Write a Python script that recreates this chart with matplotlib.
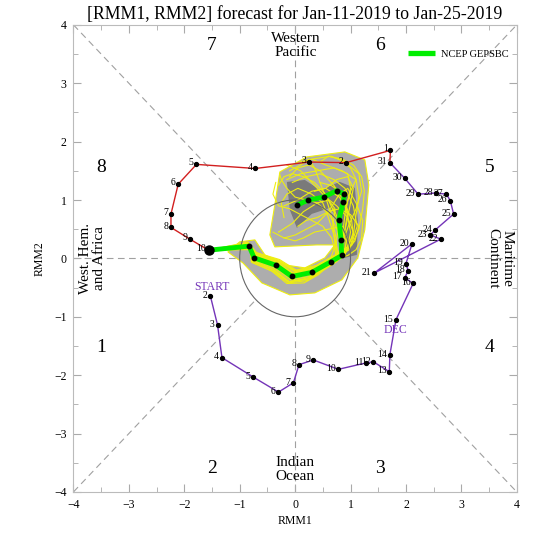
import matplotlib
matplotlib.use("Agg")
import matplotlib.pyplot as plt
import numpy as np
from matplotlib.patches import Circle, Polygon

plt.rcParams['font.family'] = ['Liberation Serif', 'DejaVu Serif']

# ---------------- data ----------------
# December observed (days 2..31)
dec_days = list(range(2, 32))
dec_rmm1 = [-1.53, -1.40, -1.32, -0.76, -0.30, -0.03, 0.07, 0.33, 0.78, 1.28, 1.41, 1.70, 1.71, 1.82,
            2.13, 1.98, 2.04, 2.00, 2.11, 1.43, 2.63, 2.44, 2.52, 2.86, 2.80, 2.73, 2.54, 2.22, 1.98, 1.71]
dec_rmm2 = [-0.64, -1.14, -1.70, -2.03, -2.29, -2.13, -1.82, -1.74, -1.90, -1.79, -1.77, -1.94, -1.65, -1.05,
            -0.43, -0.33, -0.21, -0.09, 0.25, -0.25, 0.33, 0.40, 0.48, 0.76, 0.99, 1.10, 1.12, 1.10, 1.37, 1.64]
# January observed (days 1..10)
jan_days = list(range(1, 11))
jan_rmm1 = [1.72, 0.92, 0.25, -0.72, -1.78, -2.11, -2.24, -2.24, -1.90, -1.56]
jan_rmm2 = [1.85, 1.64, 1.65, 1.54, 1.61, 1.27, 0.76, 0.53, 0.33, 0.14]

# Ensemble mean forecast (Jan 11..25)
fc_rmm1 = [-0.83, -0.74, -0.34, -0.06, 0.30, 0.64, 0.84, 0.83, 0.79, 0.87, 0.89, 0.75, 0.52, 0.24, 0.03]
fc_rmm2 = [0.21, 0.01, -0.12, -0.31, -0.24, -0.06, 0.05, 0.32, 0.66, 0.97, 1.10, 1.16, 1.05, 1.00, 0.91]

# Ensemble members (Jan 11..25)
ens_rmm1 = [
    [-0.85, -0.70, -0.28, 0.02, 0.38, 0.72, 0.95, 1.00, 0.92, 1.00, 0.95, 0.70, 0.40, 0.10, -0.15],
    [-0.80, -0.78, -0.40, -0.12, 0.22, 0.55, 0.76, 0.72, 0.68, 0.72, 0.60, 0.40, 0.15, -0.05, -0.30],
    [-0.88, -0.68, -0.30, 0.00, 0.38, 0.74, 0.98, 1.05, 1.10, 1.15, 1.10, 0.85, 0.55, 0.30, 0.10],
    [-0.80, -0.77, -0.38, -0.10, 0.25, 0.56, 0.78, 0.70, 0.60, 0.50, 0.30, 0.05, -0.15, -0.25, -0.20],
    [-0.84, -0.70, -0.30, 0.00, 0.36, 0.72, 1.02, 1.15, 1.22, 1.25, 1.20, 1.05, 0.85, 0.60, 0.45],
    [-0.81, -0.79, -0.42, -0.15, 0.16, 0.42, 0.58, 0.68, 0.75, 0.80, 0.85, 0.90, 0.80, 0.65, 0.45],
    [-0.83, -0.73, -0.33, -0.03, 0.33, 0.68, 0.90, 0.92, 0.80, 0.70, 0.55, 0.40, 0.20, 0.00, -0.20],
    [-0.86, -0.69, -0.29, 0.01, 0.37, 0.73, 0.88, 0.88, 0.95, 1.00, 1.05, 0.95, 0.75, 0.55, 0.35],
    [-0.82, -0.76, -0.39, -0.11, 0.24, 0.60, 0.86, 1.02, 1.12, 1.05, 0.90, 0.70, 0.45, 0.20, -0.05],
    [-0.84, -0.73, -0.33, -0.05, 0.30, 0.62, 0.76, 0.74, 0.65, 0.55, 0.45, 0.35, 0.25, 0.10, -0.10],
    [-0.83, -0.72, -0.33, -0.05, 0.32, 0.68, 0.95, 1.10, 1.20, 1.22, 1.10, 0.95, 0.80, 0.70, 0.60],
    [-0.85, -0.72, -0.31, -0.04, 0.32, 0.66, 0.86, 0.80, 0.70, 0.55, 0.35, 0.15, -0.05, -0.20, -0.30],
    [-0.82, -0.76, -0.37, -0.08, 0.26, 0.58, 0.82, 0.96, 1.05, 0.95, 0.75, 0.55, 0.35, 0.10, -0.15],
    [-0.84, -0.71, -0.29, 0.01, 0.36, 0.70, 0.92, 1.08, 1.15, 1.00, 0.80, 0.60, 0.40, 0.20, 0.05],
    [-0.83, -0.75, -0.36, -0.07, 0.28, 0.61, 0.80, 0.85, 0.88, 0.92, 1.00, 1.10, 1.00, 0.80, 0.60],
    [-0.86, -0.70, -0.31, -0.02, 0.34, 0.67, 0.84, 0.78, 0.62, 0.40, 0.20, 0.00, -0.15, -0.25, -0.28],
    [-0.81, -0.77, -0.39, -0.12, 0.21, 0.52, 0.72, 0.82, 0.90, 0.95, 0.80, 0.55, 0.30, 0.05, -0.20],
    [-0.85, -0.72, -0.32, -0.03, 0.33, 0.70, 0.93, 1.05, 1.02, 0.90, 0.70, 0.45, 0.25, 0.05, -0.10],
    [-0.84, -0.74, -0.35, -0.06, 0.29, 0.60, 0.74, 0.66, 0.50, 0.30, 0.10, -0.10, -0.30, -0.40, -0.35],
    [-0.82, -0.75, -0.35, -0.06, 0.30, 0.65, 0.88, 0.94, 0.85, 0.60, 0.35, 0.15, 0.00, -0.20, -0.40],
    [-0.83, -0.73, -0.34, -0.05, 0.31, 0.64, 0.83, 0.86, 0.96, 1.10, 1.20, 1.15, 0.90, 0.65, 0.30],
]
ens_rmm2 = [
    [0.28, 0.10, -0.02, -0.20, -0.12, 0.06, 0.20, 0.45, 0.85, 1.20, 1.45, 1.55, 1.50, 1.45, 1.35],
    [0.15, -0.07, -0.22, -0.42, -0.38, -0.18, -0.05, 0.25, 0.55, 0.85, 1.00, 0.95, 0.80, 0.60, 0.45],
    [0.25, 0.08, -0.04, -0.22, -0.16, 0.02, 0.15, 0.40, 0.75, 1.05, 1.35, 1.50, 1.60, 1.70, 1.65],
    [0.17, -0.04, -0.19, -0.40, -0.33, -0.14, 0.08, 0.40, 0.70, 0.95, 1.10, 1.20, 1.10, 0.95, 0.70],
    [0.26, 0.06, -0.06, -0.23, -0.17, 0.02, 0.22, 0.50, 0.85, 1.15, 1.40, 1.60, 1.70, 1.75, 1.65],
    [0.16, -0.06, -0.22, -0.43, -0.42, -0.28, -0.14, 0.10, 0.35, 0.60, 0.80, 1.00, 1.15, 1.25, 1.30],
    [0.22, 0.03, -0.09, -0.26, -0.20, 0.00, 0.05, 0.30, 0.60, 0.85, 0.75, 0.60, 0.50, 0.40, 0.35],
    [0.27, 0.09, -0.03, -0.21, -0.14, 0.04, 0.14, 0.40, 0.70, 0.95, 1.20, 1.40, 1.35, 1.20, 1.15],
    [0.18, -0.04, -0.20, -0.40, -0.35, -0.14, 0.02, 0.25, 0.55, 0.90, 1.20, 1.35, 1.45, 1.40, 1.30],
    [0.22, 0.02, -0.12, -0.31, -0.25, -0.07, 0.05, 0.35, 0.75, 1.05, 1.30, 1.55, 1.70, 1.60, 1.50],
    [0.20, 0.02, -0.10, -0.29, -0.22, -0.02, 0.05, 0.15, 0.35, 0.65, 0.95, 1.20, 1.10, 0.95, 0.80],
    [0.23, 0.03, -0.10, -0.29, -0.22, -0.05, 0.08, 0.40, 0.80, 1.10, 1.30, 1.40, 1.45, 1.40, 1.25],
    [0.19, -0.02, -0.17, -0.37, -0.31, -0.12, 0.00, 0.20, 0.45, 0.70, 0.90, 1.05, 1.25, 1.50, 1.60],
    [0.25, 0.07, -0.05, -0.22, -0.16, 0.03, 0.12, 0.30, 0.55, 0.75, 0.85, 0.80, 0.70, 0.65, 0.55],
    [0.20, -0.01, -0.15, -0.34, -0.28, -0.10, 0.02, 0.30, 0.60, 0.90, 1.15, 1.35, 1.55, 1.70, 1.75],
    [0.24, 0.05, -0.08, -0.26, -0.19, 0.00, 0.12, 0.45, 0.75, 0.95, 1.00, 1.05, 1.20, 1.35, 1.45],
    [0.17, -0.05, -0.20, -0.40, -0.36, -0.18, -0.04, 0.18, 0.50, 0.80, 1.05, 1.20, 1.15, 1.00, 0.90],
    [0.26, 0.06, -0.07, -0.25, -0.18, 0.02, 0.18, 0.40, 0.65, 0.95, 1.25, 1.50, 1.60, 1.55, 1.40],
    [0.21, 0.00, -0.13, -0.33, -0.27, -0.10, 0.05, 0.35, 0.55, 0.65, 0.75, 0.85, 0.90, 1.10, 1.30],
    [0.20, 0.01, -0.12, -0.31, -0.24, -0.05, 0.08, 0.35, 0.55, 0.50, 0.45, 0.35, 0.30, 0.35, 0.45],
    [0.22, 0.02, -0.11, -0.30, -0.23, -0.04, 0.06, 0.28, 0.55, 0.85, 1.15, 1.45, 1.65, 1.75, 1.70],
]

# Spread envelopes (outer = light gray, inner = dark gray)
outer_rmm1 = [-0.275, 0.212, 0.897, 1.258, 1.330, 1.258, 1.132, 0.844, 0.356, -0.095, -0.600, -0.942,
              -1.213, -1.000, -0.726, -0.546, -0.185, 0.176, 0.537, 0.717, 0.392, -0.366, -0.456, -0.366]
outer_rmm2 = [1.481, 1.738, 1.824, 1.687, 1.259, 0.490, 0.009, -0.368, -0.591, -0.625, -0.420, -0.077,
              0.111, 0.283, 0.317, 0.060, -0.111, -0.163, 0.009, 0.231, 0.231, 0.197, 0.402, 0.916]
inner_rmm1 = [-0.149, 0.176, 0.446, 0.807, 1.078, 1.132, 1.114, 0.897, 0.844, 0.627, 0.302, 0.032, -0.095]
inner_rmm2 = [1.310, 1.344, 1.173, 1.310, 1.207, 0.659, 0.060, 0.009, 0.574, 0.865, 0.762, 0.522, 0.830]

phase_numbers = ['1', '2', '3', '4', '5', '6', '7', '8']
phase_pos = [(-3.50, -1.52), (-1.50, -3.60), (1.53, -3.60), (3.51, -1.52),
             (3.51, 1.55), (1.53, 3.64), (-1.50, 3.64), (-3.50, 1.55)]

RED = '#d21f1f'
PURPLE = '#7434b8'
GREEN = '#00ee00'
YELLOW = '#eeee10'

# ---------------- figure ----------------
fig = plt.figure(figsize=(5.4, 5.4), dpi=100)
ax = fig.add_axes([0.136, 0.089, 0.821, 0.865])
ax.set_xlim(-4, 4)
ax.set_ylim(-4, 4)

# dashed reference lines
dash = dict(color='#a0a0a0', lw=0.8, ls=(0, (6, 4)), zorder=1)
r = np.sqrt(0.5)
ax.plot([-4, -1], [0, 0], **dash)
ax.plot([1, 4], [0, 0], **dash)
ax.plot([0, 0], [-4, -1], **dash)
ax.plot([0, 0], [1, 4], **dash)
ax.plot([-4, -r], [-4, -r], **dash)
ax.plot([r, 4], [r, 4], **dash)
ax.plot([-4, -r], [4, r], **dash)
ax.plot([r, 4], [-r, -4], **dash)

ax.add_patch(Circle((0, 0), 1, fill=False, ec='#666666', lw=0.8, zorder=4))

# spread envelopes
ax.add_patch(Polygon(list(zip(outer_rmm1, outer_rmm2)), closed=True, fc='#adadad', ec=YELLOW,
                     lw=0.8, zorder=2))
ax.add_patch(Polygon(list(zip(inner_rmm1, inner_rmm2)), closed=True, fc='#7a7a7a', ec='none', zorder=2.5))

# ensemble members
for ex, ey in zip(ens_rmm1, ens_rmm2):
    ax.plot([jan_rmm1[-1]] + ex, [jan_rmm2[-1]] + ey, color=YELLOW, lw=0.8, zorder=3)

# observed December (purple), link to Jan 1 and January in red
ax.plot(dec_rmm1, dec_rmm2, color=PURPLE, lw=1.0, zorder=5)
ax.plot(dec_rmm1, dec_rmm2, 'o', color='black', ms=2.8, zorder=6)
ax.plot([dec_rmm1[-1]] + jan_rmm1, [dec_rmm2[-1]] + jan_rmm2, color=RED, lw=1.0, zorder=5)
ax.plot(jan_rmm1, jan_rmm2, 'o', color='black', ms=2.8, zorder=6)

# ensemble mean forecast
ax.plot([jan_rmm1[-1]] + fc_rmm1, [jan_rmm2[-1]] + fc_rmm2, color=GREEN, lw=3.5, zorder=7,
        solid_capstyle='butt', label='NCEP GEPSBC')
ax.plot(fc_rmm1, fc_rmm2, 'o', color='black', ms=3.2, zorder=8)
ax.plot([jan_rmm1[-1]], [jan_rmm2[-1]], 'o', color='black', ms=6.5, zorder=9)

# day labels
for d, x, y in zip(dec_days, dec_rmm1, dec_rmm2):
    ax.annotate(str(d), (x, y), xytext=(-2, 0.5), textcoords='offset points',
                ha='right', va='center', fontsize=7, zorder=10)
for d, x, y in zip(jan_days, jan_rmm1, jan_rmm2):
    ax.annotate(str(d), (x, y), xytext=(-2, 1.0), textcoords='offset points',
                ha='right', va='center', fontsize=7, zorder=10)

ax.text(-1.50, -0.49, 'START', color=PURPLE, fontsize=8.5, ha='center', va='center')
ax.text(1.82, -1.22, 'DEC', color=PURPLE, fontsize=8.5, ha='center', va='center')

# phase numbers and region labels
for t, (px, py) in zip(phase_numbers, phase_pos):
    ax.text(px, py, t, fontsize=14, ha='center', va='center')
ax.text(0.01, 3.65, 'Western\nPacific', fontsize=11, ha='center', va='center', linespacing=1.1)
ax.text(0.0, -3.62, 'Indian\nOcean', fontsize=11, ha='center', va='center', linespacing=1.1)
ax.text(-3.66, 0.0, 'West. Hem.\nand Africa', fontsize=11, ha='center', va='center',
        rotation=90, linespacing=1.1)
ax.text(3.69, 0.0, 'Maritime\nContinent', fontsize=11, ha='center', va='center',
        rotation=270, linespacing=1.1)

# legend
leg = ax.legend(loc='upper right', bbox_to_anchor=(0.995, 0.96), frameon=False, fontsize=7.5,
                handlelength=2.6, handletextpad=0.55, borderaxespad=0.2)
for h in leg.get_lines():
    h.set_linewidth(3.8)

# axes styling
ax.set_xticks(range(-4, 5))
ax.set_yticks(range(-4, 5))
ax.set_xticks(np.arange(-4, 4.01, 0.5), minor=True)
ax.set_yticks(np.arange(-4, 4.01, 0.5), minor=True)
ax.tick_params(which='both', direction='in', top=True, right=True, color='#aaaaaa', labelsize=8.5)
ax.tick_params(which='major', length=6, pad=5)
ax.tick_params(which='minor', length=3.5)
for s in ax.spines.values():
    s.set_color('#bbbbbb')
    s.set_linewidth(0.8)

ax.set_xlabel('RMM1', fontsize=8.5, labelpad=3)
ax.set_ylabel('RMM2', fontsize=8.5, labelpad=6)
ax.set_title('[RMM1, RMM2] forecast for Jan-11-2019 to Jan-25-2019', fontsize=12.8, pad=4)

fig.savefig('out.png', dpi=100)
